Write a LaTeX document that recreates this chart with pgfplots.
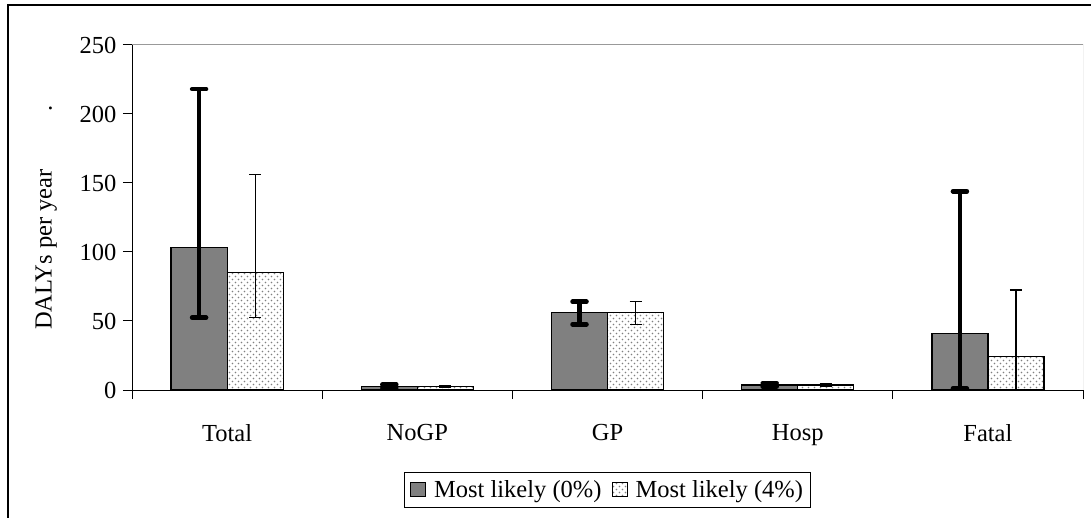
\documentclass[border=0pt]{standalone}
\usepackage{fontspec}
\setmainfont{Liberation Serif}
\usepackage{pgfplots}
\usepackage{pgfplotstable}
\pgfplotsset{compat=1.18}
\usetikzlibrary{patterns}
\pgfdeclarepatternformonly{sparsedots}{\pgfqpoint{-1bp}{-1bp}}{\pgfqpoint{7bp}{7bp}}{\pgfqpoint{6bp}{6bp}}{%
  \pgfpathcircle{\pgfqpoint{1.5bp}{1.5bp}}{0.8bp}%
  \pgfpathcircle{\pgfqpoint{4.5bp}{4.5bp}}{0.8bp}%
  \pgfusepath{fill}}
\newcommand\fs{\fontsize{24.5bp}{28bp}\selectfont}

\pgfplotstableread{
x y ep em
0 103 115 50.6
1 2.5 1.5 1.0
2 56 8 8.5
3 3.6 1.4 1.1
4 41 103 40
}\dataA

\pgfplotstableread{
x y ep em
0 85 71 32.6
1 2.5 1.0 0.7
2 56 8 8.5
3 3.6 1.2 1.1
4 24 48.5 23.5
}\dataB

\begin{document}
\begin{tikzpicture}
\useasboundingbox (0,0) rectangle (1091bp,518bp);
\draw[line width=1.2bp] (8bp,-2bp) -- (8bp,513bp) -- (1093bp,513bp);
\begin{axis}[
  at={(132bp,128bp)}, anchor=south west,
  scale only axis, width=951bp, height=345bp,
  xmin=-0.5, xmax=4.5, ymin=0, ymax=250,
  ybar=0pt, bar width=56bp,
  axis lines*=left,
  axis line style={line width=1bp},
  xtick={0,...,4}, xticklabels={Total,NoGP,GP,Hosp,Fatal},
  minor xtick={-0.5,0.5,...,4.5},
  ytick={0,50,...,250},
  tick align=outside, major tick length=9bp, minor tick length=9bp,
  major x tick style={draw=none},
  every tick/.style={black, line width=1bp},
  /pgf/number format/assume math mode=true,
  tick label style={font=\fs},
  xticklabel style={yshift=-22bp},
  yticklabel style={xshift=-3bp},
  ylabel={DALYs per year\hspace{58bp}.},
  ylabel style={font=\fs, yshift=16bp},
  legend style={at={(0.5,-0.238)}, anchor=north, legend columns=2,
    draw=black, line width=1bp, font=\fs, inner xsep=6bp, inner ysep=6bp,
    /tikz/every even column/.append style={column sep=8bp}},
  legend image code/.code={\draw[#1,draw=black,line width=1bp] (0bp,-7bp) rectangle (15bp,7bp); \path (21bp,0);},
]
\draw[gray!80, line width=1bp] (rel axis cs:0,1) -- (rel axis cs:1,1) -- (rel axis cs:1,0);
\addplot[draw=black, line width=1.2bp, fill={rgb,255:red,128;green,128;blue,128},
  error bars/.cd, y dir=both, y explicit,
  error bar style={line width=4.5bp, black},
  error mark options={rotate=90, line width=4.5bp, mark size=7bp, line cap=round, black}]
  table[x=x, y=y, y error plus=ep, y error minus=em] {\dataA};
\addlegendentry{Most likely (0\%)}
\addplot[draw=black, line width=1.2bp, fill=white, pattern=sparsedots, pattern color=gray,
  error bars/.cd, y dir=both, y explicit,
  error bar style={line width=1.2bp, black},
  error mark options={rotate=90, line width=1.2bp, mark size=6bp, black}]
  table[x=x, y=y, y error plus=ep, y error minus=em] {\dataB};
\addlegendentry{Most likely (4\%)}
\end{axis}
\end{tikzpicture}
\end{document}
